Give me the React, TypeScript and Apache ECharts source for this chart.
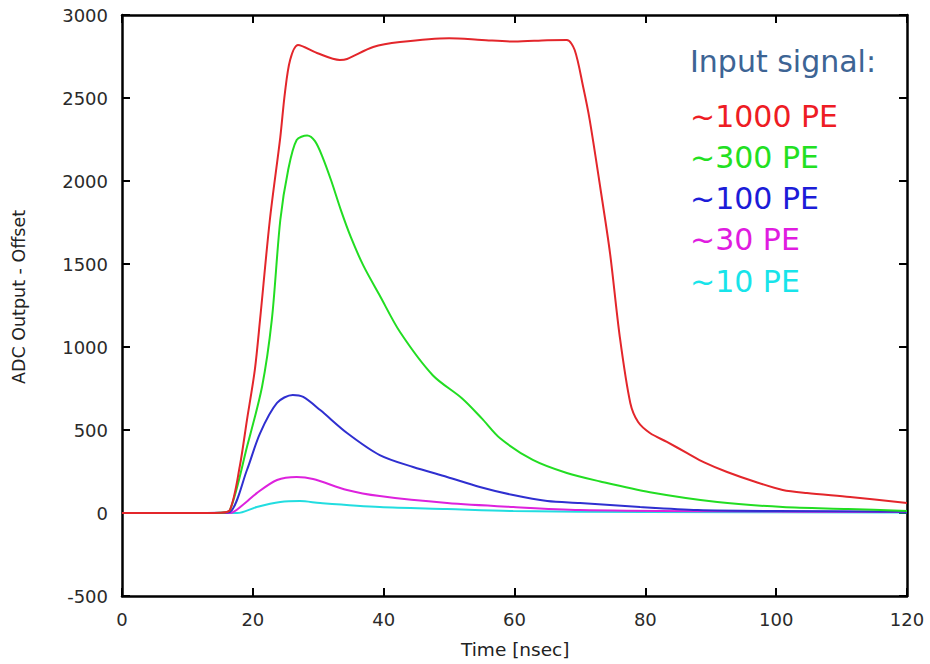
import React, { useEffect, useRef } from "react";
import * as echarts from "echarts";

const xTicks = [0, 20, 40, 60, 80, 100, 120];
const yTicks = [-500, 0, 500, 1000, 1500, 2000, 2500, 3000];

const legendTitle = "Input signal:";
const seriesNames = ["~1000 PE", "~300 PE", "~100 PE", "~30 PE", "~10 PE"];
const seriesColors = ["#e3262b", "#22dd22", "#2f2fd0", "#dd22dd", "#22dde0"];
const textColors = ["#ee1c24", "#22e022", "#1c1cd8", "#e01ce0", "#18e4ea"];

const pe1000: [number, number][] = [
  [0, 0], [10, 0], [15, 2], [16.5, 18], [18, 280], [19.1, 560], [20.3, 861], [21.1, 1163],
  [22.6, 1765], [24.2, 2265], [24.9, 2530], [25.7, 2729], [26.9, 2819], [29.8, 2771],
  [33.3, 2729], [34.4, 2735], [38.4, 2807], [42.5, 2837], [50, 2860], [55, 2850],
  [60, 2840], [65, 2848], [68, 2849], [69.2, 2789], [70.5, 2566], [71.5, 2367],
  [73.1, 1964], [74.6, 1566], [76.1, 1060], [77.7, 663], [78.9, 548], [80.7, 482],
  [83.3, 428], [86.4, 361], [89, 305], [92.5, 247], [97, 185], [101, 139], [104.7, 120],
  [111.3, 96], [120, 60],
];
const pe300: [number, number][] = [
  [0, 0], [10, 0], [15, 2], [16.5, 18], [19.1, 398], [21.4, 759], [22.9, 1163],
  [24.2, 1765], [25.4, 2066], [26.7, 2247], [28.3, 2274], [29.5, 2240], [30.7, 2140],
  [32, 2000], [33.5, 1820], [35, 1660], [36.9, 1490], [39.4, 1310],
  [42.5, 1090], [47.5, 830], [52, 690], [55, 570], [57.8, 450], [62.8, 320], [68, 241],
  [73.1, 190], [80.7, 125], [91, 66], [101, 36], [111, 24], [120, 12],
];
const pe100: [number, number][] = [
  [0, 0], [10, 0], [15, 1], [16.5, 6], [19.1, 259], [21.1, 480], [23.7, 663],
  [26.1, 711], [27.7, 699], [30.3, 620], [34.4, 482], [39.4, 349], [44.5, 277],
  [49.7, 217], [54.7, 157], [59.8, 108], [65, 72], [70, 60], [79.2, 36], [88, 18],
  [100, 12], [120, 8],
];
const pe30: [number, number][] = [
  [0, 0], [10, 0], [16.5, 0], [18.5, 50], [20.6, 120], [23.7, 199], [26.7, 217],
  [29.2, 205], [34.4, 139], [39.4, 102], [49.7, 60], [59.8, 36], [70, 18], [90, 10],
  [120, 6],
];
const pe10: [number, number][] = [
  [0, 0], [10, 0], [17.6, 0], [20.6, 36], [24.2, 66], [27.2, 72], [30.3, 60],
  [39.4, 36], [49.7, 24], [59.8, 12], [80, 6], [120, 3],
];
const seriesData = [pe1000, pe300, pe100, pe30, pe10];

const FONT = "DejaVu Sans";

export default function App() {
  const ref = useRef<HTMLDivElement>(null);
  useEffect(() => {
    if (!ref.current) return;
    const chart = echarts.init(ref.current, null, { renderer: "svg" });
    const axisLine = { show: true, onZero: false, lineStyle: { color: "#000", width: 2.5 } };
    const axisTick = { show: true, inside: true, length: 8, lineStyle: { color: "#000", width: 2 } };
    const labelStyle = { fontFamily: FONT, fontSize: 18, color: "#2a2a2a" };
    chart.setOption({
      animation: false,
      backgroundColor: "#fff",
      grid: { left: 122, top: 15, right: 23, bottom: 68, containLabel: false },
      xAxis: [
        {
          type: "value", min: 0, max: 120, interval: 20, position: "bottom",
          axisLine, axisTick, splitLine: { show: false },
          axisLabel: { ...labelStyle, margin: 14, formatter: (v: number) => (xTicks.includes(v) ? String(v) : "") },
        },
        {
          type: "value", min: 0, max: 120, interval: 20, position: "top",
          axisLine, axisTick, splitLine: { show: false }, axisLabel: { show: false },
        },
      ],
      yAxis: [
        {
          type: "value", min: -500, max: 3000, interval: 500, position: "left",
          axisLine, axisTick, splitLine: { show: false },
          axisLabel: { ...labelStyle, margin: 14, formatter: (v: number) => (yTicks.includes(v) ? String(v) : "") },
        },
        {
          type: "value", min: -500, max: 3000, interval: 500, position: "right",
          axisLine, axisTick, splitLine: { show: false }, axisLabel: { show: false },
        },
      ],
      series: seriesData.map((d, i) => ({
        name: seriesNames[i],
        type: "line",
        data: d,
        xAxisIndex: 0,
        yAxisIndex: 0,
        showSymbol: false,
        smooth: 0.3,
        lineStyle: { color: seriesColors[i], width: 2 },
        z: 10 - i,
      })),
      graphic: [
        {
          type: "text", left: 461, top: 640,
          style: { text: "Time [nsec]", font: `18.5px '${FONT}'`, fill: "#222" },
        },
        {
          type: "text", x: 10, y: 384, rotation: Math.PI / 2,
          style: { text: "ADC Output - Offset", font: `17.5px '${FONT}'`, fill: "#222" },
        },
        {
          type: "text", left: 690, top: 46,
          style: { text: legendTitle, font: `30px '${FONT}'`, fill: "#3d6494" },
        },
        ...seriesNames.map((n, i) => ({
          type: "text", left: 690, top: 101 + i * 41.3,
          style: { text: n, font: `30px '${FONT}'`, fill: textColors[i] },
        })),
      ],
    });
    return () => chart.dispose();
  }, []);
  return <div ref={ref} style={{ width: 930, height: 664, position: "absolute", left: 0, top: 0 }} />;
}
